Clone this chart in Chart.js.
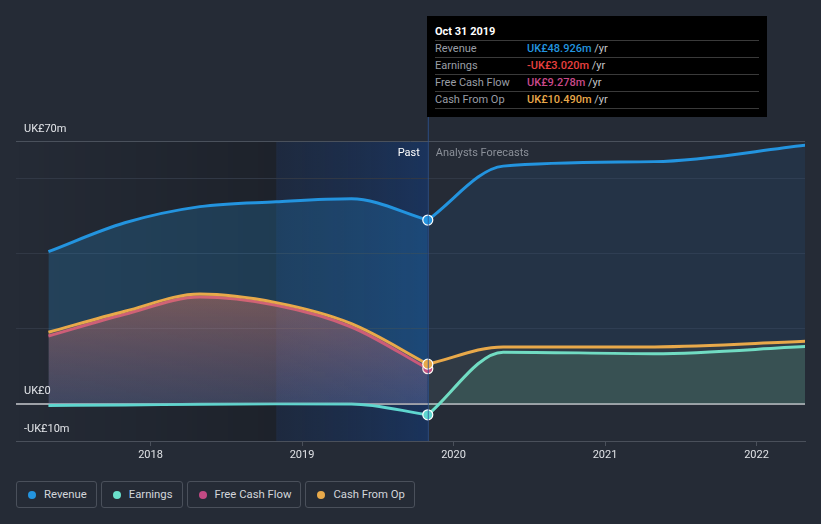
<!DOCTYPE html>
<html>
<head>
<meta charset="utf-8">
<script src="https://cdn.jsdelivr.net/npm/chart.js@4"></script>
<style>
  body { margin: 0; background: #252b36; font-family: Roboto, "Noto Sans", sans-serif; }
  #wrap { position: relative; width: 821px; height: 524px; background: #252b36; overflow: hidden; }
  #box { position: absolute; left: 0; top: 0; width: 821px; height: 470px; }
  #tip { position: absolute; left: 427px; top: 16px; width: 340px; height: 101px; background: #000; box-sizing: border-box; padding: 0 8px; }
  #tip .ttl { color: #fff; font-weight: bold; font-size: 11px; height: 24px; line-height: 31px; border-bottom: 1px solid #3a3a3a; }
  #tip .row { height: 16px; line-height: 16px; font-size: 11px; border-bottom: 1px solid #3a3a3a; color: #9a9ea6; position: relative; }
  #tip .row span.v { position: absolute; left: 92px; font-weight: 500; }
  #tip .row span.u { color: #c4c6ca; font-weight: normal; }
  #legend { position: absolute; top: 481px; left: 16px; display: flex; gap: 4px; }
  .item { height: 25px; border: 1px solid #4a505b; border-radius: 3px; display: flex; align-items: center; padding: 0 9px 0 11px; color: #d3d6db; font-size: 11.3px; }
  .dot { width: 8px; height: 8px; border-radius: 50%; margin-right: 8px; }
</style>
</head>
<body>
<div id="wrap">
  <div id="box"><canvas id="grafica"></canvas></div>
  <div id="tip">
    <div class="ttl">Oct 31 2019</div>
    <div class="row">Revenue<span class="v" style="color:#2394df">UK£48.926m <span class="u">/yr</span></span></div>
    <div class="row">Earnings<span class="v" style="color:#e8403f">-UK£3.020m <span class="u">/yr</span></span></div>
    <div class="row">Free Cash Flow<span class="v" style="color:#c9498a">UK£9.278m <span class="u">/yr</span></span></div>
    <div class="row">Cash From Op<span class="v" style="color:#e8a94a">UK£10.490m <span class="u">/yr</span></span></div>
  </div>
  <div id="legend">
    <div class="item"><span class="dot" style="background:#2394df"></span>Revenue</div>
    <div class="item"><span class="dot" style="background:#6ae0cb"></span>Earnings</div>
    <div class="item"><span class="dot" style="background:#c24a84"></span>Free Cash Flow</div>
    <div class="item"><span class="dot" style="background:#e8a94a"></span>Cash From Op</div>
  </div>
</div>
<script>
const $grafica = document.querySelector("#grafica");

// values in UK£ millions
const fechasPasado = ['2017-04-30', '2017-10-31', '2018-04-30', '2018-10-31', '2019-04-30', '2019-10-31'];
const ingresosPasado = [40.5, 48.2, 52.5, 53.8, 54.6, 48.926];
const gananciasPasado = [-0.5, -0.4, -0.2, -0.1, -0.1, -3.02];
const flujoLibrePasado = [18.0, 23.8, 28.4, 26.2, 20.4, 9.278];
const flujoOpPasado = [19.0, 24.6, 29.2, 26.9, 21.3, 10.49];

const fechasPrevision = ['2019-10-31', '2020-04-30', '2021-04-30', '2022-04-30'];
const ingresosPrevision = [48.926, 63.3, 64.5, 68.9];
const gananciasPrevision = [-3.02, 13.7, 13.3, 15.2];
const flujoOpPrevision = [10.49, 15.1, 15.1, 16.6];

const anios = [2018, 2019, 2020, 2021, 2022];
const ticksY = [-10, 0, 20, 40, 60, 70];
const etiquetasY = {70: 'UK£70m', 0: 'UK£0', '-10': '-UK£10m'};

const aAnio = s => {
    const d = new Date(s + 'T00:00:00Z');
    const y = d.getUTCFullYear();
    const ini = Date.UTC(y, 0, 1), fin = Date.UTC(y + 1, 0, 1);
    return y + (d - ini) / (fin - ini);
};
const puntos = (fechas, vals) => fechas.map((f, i) => ({x: aAnio(f), y: vals[i]}));
const hoy = aAnio('2019-10-31');
const haceUnAnio = aAnio('2018-10-31');

const radioUltimo = n => ctx => ctx.dataIndex === n - 1 ? 5 : 0;

const serie = (data, color, fill, extra) => Object.assign({
    data: data,
    borderColor: color,
    borderWidth: 3,
    backgroundColor: fill,
    fill: fill ? 'origin' : false,
    cubicInterpolationMode: 'monotone',
    pointRadius: 0,
    pointBackgroundColor: color,
    pointBorderColor: '#ffffff',
    pointBorderWidth: 1.2,
}, extra || {});

const gradFlujo = (c1, c2) => ctx => {
    const area = ctx.chart.chartArea;
    if (!area) return c1;
    const y0 = ctx.chart.scales.y.getPixelForValue(30);
    const y1 = ctx.chart.scales.y.getPixelForValue(0);
    const g = ctx.chart.ctx.createLinearGradient(0, y0, 0, y1);
    g.addColorStop(0, c1);
    g.addColorStop(1, c2);
    return g;
};

const fondo = {
    id: 'fondo',
    beforeDraw(chart) {
        const {ctx, chartArea: a, scales: {x}} = chart;
        const xa = x.getPixelForValue(haceUnAnio);
        const xh = x.getPixelForValue(hoy);
        let g = ctx.createLinearGradient(a.left, 0, xa, 0);
        g.addColorStop(0, 'rgba(0,0,0,0)');
        g.addColorStop(1, 'rgba(0,0,0,0.2)');
        ctx.fillStyle = g;
        ctx.fillRect(a.left, a.top, xa - a.left, a.bottom - a.top);
        g = ctx.createLinearGradient(xa, 0, xh, 0);
        g.addColorStop(0, 'rgba(18,40,80,0.35)');
        g.addColorStop(1, 'rgba(16,60,130,0.5)');
        ctx.fillStyle = g;
        ctx.fillRect(xa, a.top, xh - xa, a.bottom - a.top);
    },
    afterDraw(chart) {
        const {ctx, chartArea: a, scales: {x, y}} = chart;
        const xh = x.getPixelForValue(hoy);
        ctx.save();
        ctx.strokeStyle = 'rgba(45,85,150,0.8)';
        ctx.lineWidth = 1;
        ctx.beginPath();
        ctx.moveTo(xh + 0.5, 116);
        ctx.lineTo(xh + 0.5, a.bottom);
        ctx.stroke();
        ctx.font = '11px Roboto';
        ctx.textBaseline = 'middle';
        ctx.fillStyle = '#ffffff';
        ctx.textAlign = 'right';
        ctx.fillText('Past', xh - 8, a.top + 12);
        ctx.fillStyle = '#8b9099';
        ctx.textAlign = 'left';
        ctx.fillText('Analysts Forecasts', xh + 8, a.top + 12);
        ctx.fillStyle = '#e2e4e8';
        Object.keys(etiquetasY).forEach(v => {
            ctx.fillText(etiquetasY[v], a.left + 8, y.getPixelForValue(Number(v)) - 12);
        });
        ctx.restore();
    }
};

new Chart($grafica, {
    type: 'line',
    data: {
        datasets: [
            serie(puntos(fechasPasado, flujoOpPasado), '#e8a94a', gradFlujo('rgba(232,150,90,0.30)', 'rgba(200,120,110,0.10)'), {pointRadius: radioUltimo(fechasPasado.length)}),
            serie(puntos(fechasPrevision, flujoOpPrevision), '#e8a94a', 'rgba(232,169,74,0.06)'),
            serie(puntos(fechasPasado, flujoLibrePasado), '#c9507e', gradFlujo('rgba(201,70,110,0.22)', 'rgba(160,70,140,0.10)'), {pointRadius: radioUltimo(fechasPasado.length), pointBackgroundColor: '#c24a84'}),
            serie(puntos(fechasPasado, gananciasPasado), '#5fd6cf', null, {pointRadius: radioUltimo(fechasPasado.length)}),
            serie(puntos(fechasPrevision, gananciasPrevision), '#6ae0cb', 'rgba(106,224,180,0.14)'),
            serie(puntos(fechasPasado, ingresosPasado), '#2394df', 'rgba(35,148,223,0.22)', {pointRadius: radioUltimo(fechasPasado.length)}),
            serie(puntos(fechasPrevision, ingresosPrevision), '#2394df', 'rgba(35,120,200,0.11)'),
        ]
    },
    options: {
        responsive: true,
        maintainAspectRatio: false,
        animation: false,
        layout: {padding: {top: 141, left: 16, right: 16, bottom: 0}},
        plugins: {legend: {display: false}, tooltip: {enabled: false}},
        scales: {
            x: {
                type: 'linear',
                min: 2017.112,
                max: 2022.32,
                afterBuildTicks: s => { s.ticks = anios.map(v => ({value: v})); },
                afterFit: s => { s.height = 29; },
                ticks: {color: '#dfe1e5', font: {family: 'Roboto', size: 11}, padding: 3, callback: v => String(v), maxRotation: 0},
                grid: {drawOnChartArea: false, drawTicks: true, tickLength: 5, color: '#4a505b'},
                border: {color: '#4a505b', width: 1},
            },
            y: {
                min: -10,
                max: 70,
                afterBuildTicks: s => { s.ticks = ticksY.map(v => ({value: v})); },
                afterFit: s => { s.width = 0; },
                ticks: {display: false},
                border: {display: false},
                grid: {
                    drawTicks: false,
                    color: c => c.tick.value === 0 ? '#9ea1a7' : c.tick.value === 70 ? '#4a515c' : c.tick.value === -10 ? 'rgba(0,0,0,0)' : '#313845',
                    lineWidth: c => c.tick.value === 0 ? 2 : 1,
                },
            }
        }
    },
    plugins: [fondo]
});
</script>
</body>
</html>
